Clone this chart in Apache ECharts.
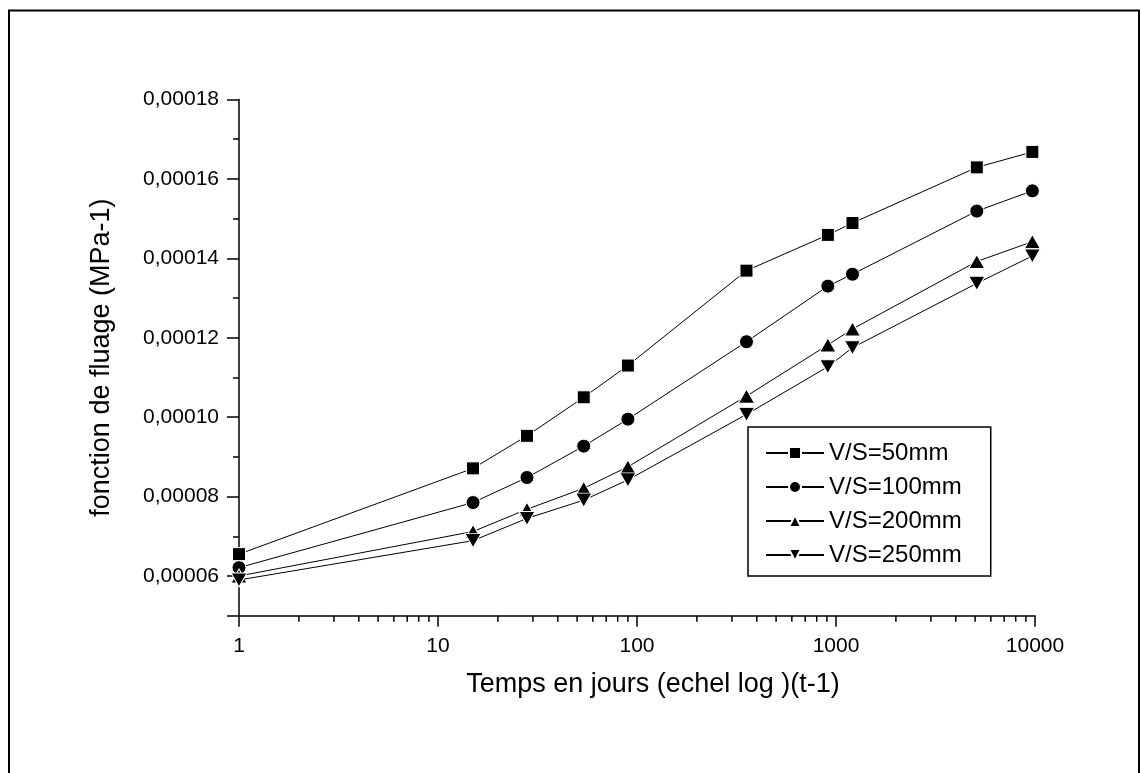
<!DOCTYPE html>
<html>
<head>
<meta charset="utf-8">
<script src="https://cdn.jsdelivr.net/npm/echarts@6/dist/echarts.min.js"></script>
<style>
html,body{margin:0;padding:0;background:#fff;}
#chart{width:1141px;height:773px;}
</style>
</head>
<body>
<div id="chart"></div>
<script>
// ---- data ----
const days = [1, 15, 28, 54, 90, 355, 910, 1210, 5100, 9700];
const vs50  = [6.55e-5, 8.71e-5, 9.53e-5, 10.50e-5, 11.30e-5, 13.69e-5, 14.59e-5, 14.89e-5, 16.29e-5, 16.68e-5];
const vs100 = [6.21e-5, 7.85e-5, 8.48e-5, 9.27e-5, 9.95e-5, 11.90e-5, 13.30e-5, 13.60e-5, 15.19e-5, 15.70e-5];
const vs200 = [6.00e-5, 7.12e-5, 7.68e-5, 8.21e-5, 8.75e-5, 10.53e-5, 11.82e-5, 12.22e-5, 13.92e-5, 14.42e-5];
const vs250 = [5.90e-5, 6.89e-5, 7.45e-5, 7.91e-5, 8.42e-5, 10.07e-5, 11.27e-5, 11.75e-5, 13.37e-5, 14.06e-5];
const seriesNames = ['V/S=50mm', 'V/S=100mm', 'V/S=200mm', 'V/S=250mm'];
const xMinorTicks = [2,3,4,5,6,7,8,9,20,30,40,50,60,70,80,90,200,300,400,500,600,700,800,900,2000,3000,4000,5000,6000,7000,8000,9000];
const xTitle = 'Temps en jours (echel log )(t-1)';
const yTitle = 'fonction de fluage (MPa-1)';
const yMin = 0.00005, yMax = 0.00018, yStep = 0.00002;

const FONT = '"Liberation Sans", Arial, Helvetica, sans-serif';
const chart = echarts.init(document.getElementById('chart'), null, {renderer: 'canvas'});

function pairs(vals) { return days.map((d, i) => [d, vals[i]]); }

const downTri = 'path://M0,0L20,0L10,18Z';
const symbols = [
  {symbol: 'rect', size: 13},
  {symbol: 'circle', size: 14},
  {symbol: 'triangle', size: [16, 14]},
  {symbol: downTri, size: [16, 14]}
];
const allVals = [vs50, vs100, vs200, vs250];

const lineSeries = allVals.map((vals, k) => ({
  name: seriesNames[k],
  type: 'line',
  data: pairs(vals),
  symbol: symbols[k].symbol,
  symbolSize: symbols[k].size,
  showSymbol: true,
  lineStyle: {color: '#000', width: 1},
  itemStyle: {color: '#000', borderColor: '#fff', borderWidth: 1},
  z: 3 + k,
  animation: false
}));

const option = {
  backgroundColor: '#fff',
  animation: false,
  textStyle: {fontFamily: FONT},
  grid: {left: 239, right: 106, top: 99.5, bottom: 157.3, containLabel: false},
  xAxis: {
    type: 'log',
    logBase: 10,
    min: 1,
    max: 10000,
    name: xTitle,
    nameLocation: 'middle',
    nameGap: 55,
    nameTextStyle: {fontSize: 27, color: '#000', fontFamily: FONT, padding: [0, 0, 0, 32]},
    axisLine: {show: true, lineStyle: {color: '#000', width: 1.5}},
    axisTick: {show: true, inside: false, length: 11, lineStyle: {color: '#000', width: 1.5}},
    minorTick: {show: false},
    splitLine: {show: false},
    axisLabel: {
      fontSize: 21, color: '#000', fontFamily: FONT, margin: 20,
      formatter: v => String(Math.round(v))
    }
  },
  yAxis: {
    type: 'value',
    min: yMin,
    max: yMax,
    splitNumber: 6,
    minInterval: yStep,
    maxInterval: yStep,
    name: yTitle,
    nameLocation: 'middle',
    nameRotate: 90,
    nameGap: 124,
    nameTextStyle: {fontSize: 27, color: '#000', fontFamily: FONT},
    axisLine: {show: true, lineStyle: {color: '#000', width: 1.5}},
    axisTick: {show: true, inside: false, length: 12, lineStyle: {color: '#000', width: 1.5}},
    minorTick: {show: true, splitNumber: 2, length: 6, lineStyle: {color: '#000', width: 1.5}},
    splitLine: {show: false},
    axisLabel: {
      fontSize: 21, color: '#000', fontFamily: FONT, margin: 20,
      formatter: function (v) {
        const r = v / yStep;
        if (Math.abs(r - Math.round(r)) > 1e-6) return '';
        return v.toFixed(5).replace('.', ',');
      }
    }
  },
  legend: {
    show: true,
    data: seriesNames,
    orient: 'vertical',
    left: 748,
    top: 427,
    padding: [14, 29, 9, 17],
    itemGap: 10,
    itemWidth: 58,
    itemHeight: 15,
    borderColor: '#000',
    borderWidth: 1.5,
    backgroundColor: '#fff',
    selectedMode: false,
    textStyle: {fontSize: 24, color: '#000', fontFamily: FONT, padding: [0, 0, 0, 0]}
  },
  graphic: [{
    type: 'rect',
    shape: {x: 9, y: 10.5, width: 1130, height: 800},
    style: {fill: 'none', stroke: '#000', lineWidth: 2},
    silent: true,
    z: 100
  }],
  series: lineSeries.concat([{
    type: 'custom',
    name: 'xminor',
    silent: true,
    clip: false,
    data: xMinorTicks.map(v => [v, yMin]),
    encode: {x: 0, y: 1},
    renderItem: function (params, api) {
      const p = api.coord([api.value(0), api.value(1)]);
      return {
        type: 'line',
        shape: {x1: p[0], y1: p[1], x2: p[0], y2: p[1] + 6},
        style: {stroke: '#000', lineWidth: 1.5}
      };
    },
    z: 2
  }])
};
chart.setOption(option);
</script>
</body>
</html>
